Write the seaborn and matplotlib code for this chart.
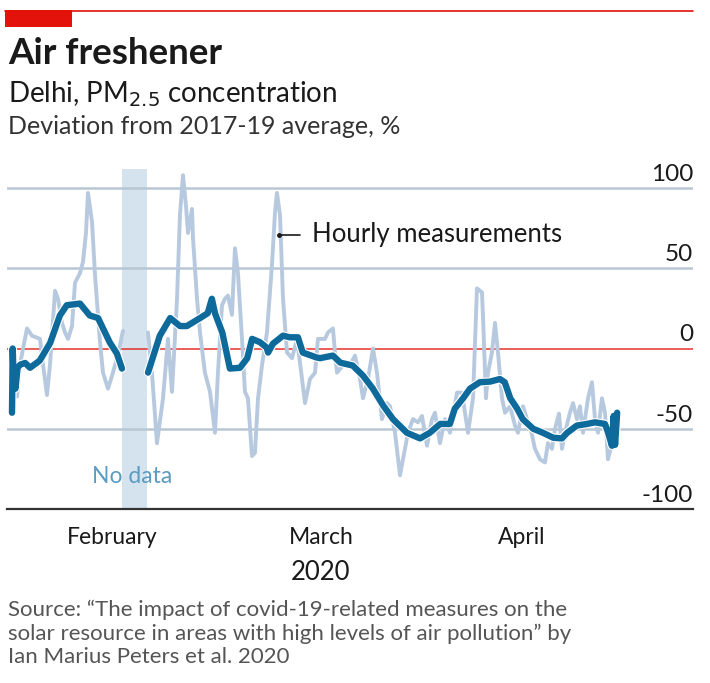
import matplotlib
matplotlib.use("Agg")
import matplotlib.pyplot as plt
import matplotlib.patheffects as pe
import seaborn as sns
import pandas as pd
import numpy as np

# days since 1 Feb 2020
daily_day = [0.0, 0.1, 0.25, 0.5, 0.8, 1.2, 1.9, 2.6, 4.0, 5.5, 6.9, 7.9, 9.8, 11.2, 12.4, 14.1, 15.1, 15.85,
             19.6, 21.3, 22.8, 24.2, 25.2, 27.1, 28.2, 28.8, 29.25, 30.3, 31.4, 32.85, 33.9, 34.6, 35.7, 36.7,
             36.9, 37.6, 39.05, 40.05, 41.2, 41.9, 43.9, 44.4, 46.25, 47.3, 49.1, 50.6, 52.0, 53.5, 54.9, 56.9,
             58.8, 60.2, 61.7, 63.1, 63.8, 65.0, 66.0, 67.4, 68.9, 70.3, 71.0, 71.8, 72.8, 73.6, 75.1, 76.5,
             78.0, 79.25, 80.0, 81.4, 82.85, 84.0, 85.45, 85.9, 86.45, 86.7, 86.9, 87.2]
daily_val = [-40, 0, -20, -25, -12, -10, -9, -12, -7.5, 3.5, 20.6, 27, 28, 20.6, 19, 3.7, -3, -12.5,
             -15, 8, 19, 14, 14, 19, 22, 31, 22, 10, -12.5, -12, -6, 6, 4, 0.6,
             -2.5, 3, 8, 7, 7, -2.5, -5.6, -6, -4.4, -8.8, -10.6, -17, -25, -35.6, -44, -52.5,
             -56, -52.5, -47, -47, -37.5, -31, -25, -21, -20.6, -19, -21, -31, -37.5, -44, -50, -52.5,
             -55.6, -56, -52.5, -48, -47, -46, -47, -52.5, -60.6, -42, -60, -40]

hourly_day = [0.43, 0.72, 1.15, 2.16, 2.88, 4.03, 4.47, 5.04, 5.48, 6.2, 6.63, 7.2, 7.64, 8.07, 8.65, 9.08,
              9.8, 10.23, 10.66, 10.95, 11.53, 11.96, 12.68, 13.11, 13.83, 14.41, 15.27, 15.99,
              19.6, 20.17, 20.89, 21.76, 22.48, 23.05, 23.78, 24.2, 24.64, 25.07, 25.36, 25.94, 26.08, 26.66,
              27.09, 27.8, 28.53, 29.25, 29.68, 30.26, 30.69, 31.12, 31.7, 32.13, 32.56, 33.14, 33.57, 34.0,
              34.58, 35.01, 35.45, 36.02, 36.74, 37.46, 37.9, 38.18, 38.62, 39.05, 39.63, 40.35, 41.07, 41.79,
              42.22, 42.94, 43.66, 44.09, 45.1, 45.53, 46.25, 46.54, 46.83, 47.69, 48.7, 49.42, 50.14, 50.58,
              51.3, 52.02, 52.59, 53.31, 54.03, 54.47, 55.19, 55.91, 56.34, 57.06, 57.78, 58.5, 59.08, 59.8,
              60.52, 60.95, 61.67, 62.39, 63.11, 64.12, 64.84, 65.71, 66.43, 67.0, 67.72, 67.87, 68.3, 68.59,
              69.16, 69.6, 70.03, 70.61, 71.04, 71.76, 72.48, 72.91, 73.63, 74.21, 74.64, 75.36, 76.08, 76.8,
              77.23, 77.81, 78.24, 78.82, 79.25, 79.68, 80.4, 80.84, 81.41, 81.84, 82.28, 83.0, 83.57, 84.01,
              84.44, 85.01, 85.45, 85.88, 86.46, 86.89]
hourly_val = [-29, -30, -10, 12.5, 8, 6, -10, -29, -10, 36, 31, 16, 10, 6, 14, 41,
              47, 54, 72, 97, 79, 46, 4, -15, -25, -17, -4, 11,
              10, -15, -59, -31, 6, -27, 31, 83, 108, 89, 72, 87, 69, 31,
              10, -15, -27, -52.5, -15, 27, 31, 33, 21, 62.5, 47, 6, -27, -31,
              -67, -65, -31, -10.6, 10, 52, 85, 97, 83, 31, -2.5, -6, 6, -19,
              -34, -19, -15, 6, 6, 10, 12.5, -2.5, -15, -10.6, -10.6, -4.4, -19, -31,
              -19, 0, -15, -44, -34, -36, -52.5, -79, -69, -52.5, -44, -46, -42, -60.6,
              -44, -40, -59, -44, -52.5, -27.5, -27.5, -52.5, -31, 37.5, 35, 20, -31, -15,
              -2.5, 16, -2.5, -31, -40, -36, -48, -52.5, -36, -44, -48, -62.5, -69, -71,
              -59, -62.5, -50, -40.6, -62.5, -52.5, -40, -34, -44, -36, -52.5, -31, -21, -44,
              -52.5, -31, -40, -69, -59, -48]

nodata = (15.85, 19.45)
month_ticks = [0, 29, 60, 87]
month_centres = [14.5, 44.5, 73.5]
month_labels = ["February", "March", "April"]
grid_vals = [100, 50, -50]
ytick_vals = [100, 50, 0, -50, -100]

DARK = "#0f6a9c"
LIGHT = "#b7c9df"
GRID = "#b9c6d3"
RED = "#e3120b"
TXT = "#1a1a1a"

gap_mid = (nodata[0] + nodata[1]) / 2
daily = pd.DataFrame({"day": daily_day, "val": daily_val})
daily["seg"] = (daily["day"] > gap_mid).astype(int)
hourly = pd.DataFrame({"day": hourly_day, "val": hourly_val})
hourly["seg"] = (hourly["day"] > gap_mid).astype(int)

sns.set_style("white")
plt.rcParams["font.family"] = ["Lato", "DejaVu Sans"]

fig = plt.figure(figsize=(7.1, 6.83), dpi=100)
fig.patch.set_facecolor("white")
W, H = 710, 683
ax = fig.add_axes([7 / W, 1 - 509 / H, 686 / W, (509 - 168.8) / H])

ax.axvspan(nodata[0], nodata[1], color="#d5e3ee", lw=0, zorder=0)
for g in grid_vals:
    ax.axhline(g, color=GRID, lw=1.8, zorder=1)
ax.axhline(0, color=RED, lw=1.2, zorder=1, alpha=0.8)

sns.lineplot(data=hourly, x="day", y="val", units="seg", estimator=None, sort=False,
             color=LIGHT, lw=2.8, ax=ax, zorder=2)
sns.lineplot(data=daily, x="day", y="val", units="seg", estimator=None, sort=False,
             color=DARK, lw=4.6, ax=ax, zorder=3,
             path_effects=[pe.Stroke(linewidth=6.2, foreground="white"), pe.Normal()])

ax.set_xlim(-0.72, 98.13)
ax.set_ylim(-100, 112)
ax.set_xlabel("")
ax.set_ylabel("")
for s in ["top", "right", "left"]:
    ax.spines[s].set_visible(False)
ax.spines["bottom"].set_color("#333333")
ax.spines["bottom"].set_linewidth(1.6)

ax.set_yticks([])
ax.set_xticks(month_ticks)
ax.set_xticklabels([])
ax.tick_params(axis="x", which="major", direction="out", length=8, width=1.5, color="#333333")
ax.set_xticks(month_centres, minor=True)
ax.set_xticklabels(month_labels, minor=True, fontsize=16.5, color=TXT)
ax.tick_params(axis="x", which="minor", length=0, pad=13)

trans = ax.get_yaxis_transform()
for v in ytick_vals:
    ax.text(1.0, v + 2, str(v), transform=trans, ha="right", va="bottom", fontsize=17.5, color=TXT)

ax.text(17.3, -80, "No data", fontsize=16.5, color="#5b9cc2", ha="center", va="center")

# hourly annotation
ax.plot([38.5, 41.5], [71, 71], color=TXT, lw=1.2)
ax.plot([38.5], [71], "o", color=TXT, ms=2.5)
ax.text(43.2, 71, "Hourly measurements", fontsize=18.5, color=TXT, va="center", ha="left")

fig.text(321 / W, 1 - 573 / H, "2020", fontsize=18.5, color=TXT, ha="center", va="center")

# header
fig.add_artist(plt.Line2D([5 / W, 693 / W], [1 - 11 / H, 1 - 11 / H], color=RED, lw=1.2))
fig.add_artist(plt.Rectangle((5 / W, 1 - 27 / H), 67 / W, 17 / H, color=RED, lw=0))
fig.text(8 / W, 1 - 53 / H, "Air freshener", fontsize=26.5, fontweight="bold", color=TXT, va="center")
fig.text(8 / W, 1 - 94 / H, r"Delhi, PM$_{2.5}$ concentration", fontsize=20, color=TXT, va="center")
fig.text(8 / W, 1 - 127 / H, "Deviation from 2017-19 average, %", fontsize=18, color="#333333", va="center")

src = ("Source: \u201cThe impact of covid-19-related measures on the\n"
       "solar resource in areas with high levels of air pollution\u201d by\n"
       "Ian Marius Peters et al. 2020")
fig.text(8 / W, 1 - 600 / H, src, fontsize=16, color="#555555", va="top", linespacing=1.2)

fig.savefig("out.png", dpi=100)
